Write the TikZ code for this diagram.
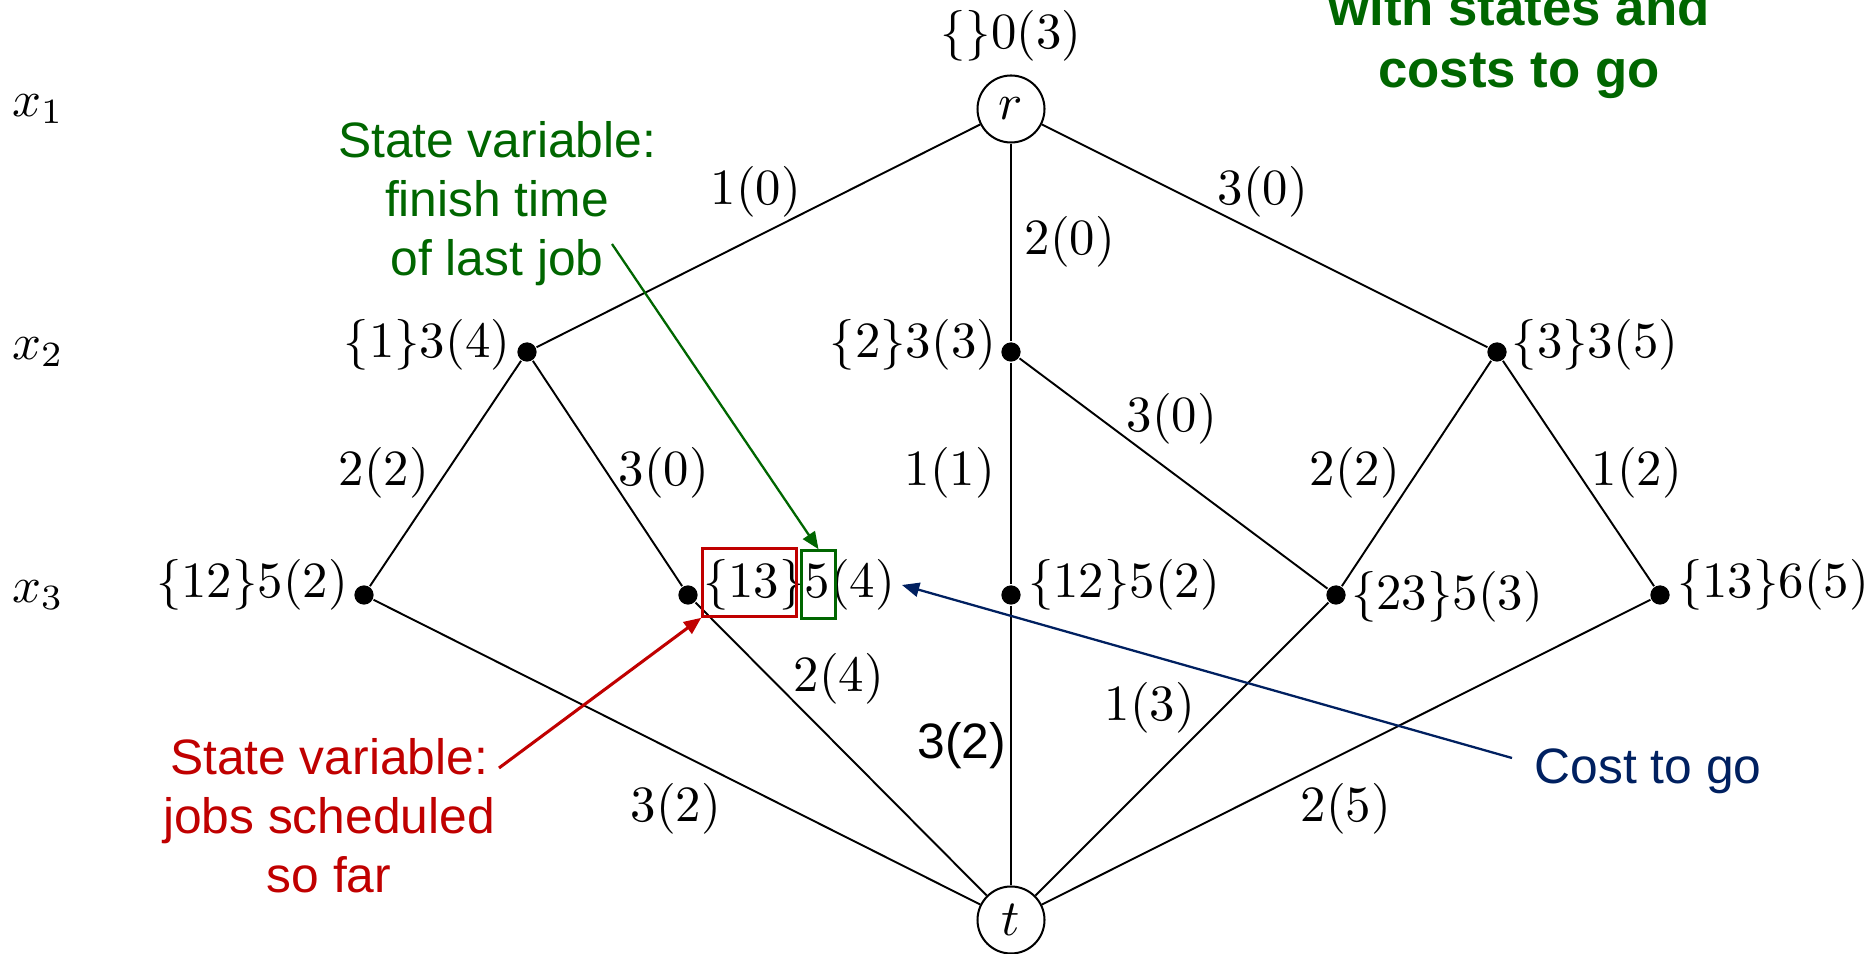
\documentclass[tikz,border=0pt]{standalone}
\usepackage{fontspec}
\newfontfamily\arial{Liberation Sans}
\usetikzlibrary{arrows.meta}
\definecolor{tgreen}{RGB}{0,102,0}
\definecolor{tred}{RGB}{192,0,0}
\definecolor{tnavy}{RGB}{0,32,96}
\begin{document}
\begin{tikzpicture}[x=0.197pt,y=-0.197pt,
  edge/.style={line width=0.38pt},
  endpt/.style={circle,draw,line width=0.4pt,minimum size=13.2pt,inner sep=0pt},
  dot/.style={circle,fill,minimum size=3.8pt,inner sep=0pt},
  lab/.style={inner sep=0pt},
  ann/.style={font=\arial\fontsize{9.8}{11.6}\selectfont,align=center,inner sep=0pt},
  ttl/.style={font=\arial\bfseries\fontsize{10.4}{12.3}\selectfont,align=center,inner sep=0pt,text=tgreen},
  arr/.style={-{Triangle[length=3.4pt,width=2.8pt]},line width=0.45pt}]
\useasboundingbox (0,0) rectangle (1872,954);

% graph nodes
\node[endpt] (r) at (1011,109) {$r$};
\node[endpt] (t) at (1011,920) {$t$};
\node[dot] (A) at (527,352) {};
\node[dot] (B) at (1011,352) {};
\node[dot] (C) at (1497,352) {};
\node[dot] (D) at (364,595) {};
\node[dot] (E) at (688,595) {};
\node[dot] (F) at (1011,595) {};
\node[dot] (G) at (1336,595) {};
\node[dot] (H) at (1660,595) {};

% edges
\draw[edge] (r) -- (A);
\draw[edge] (r) -- (B);
\draw[edge] (r) -- (C);
\draw[edge] (A) -- (D);
\draw[edge] (A) -- (E);
\draw[edge] (B) -- (F);
\draw[edge] (B) -- (G);
\draw[edge] (C) -- (G);
\draw[edge] (C) -- (H);
\draw[edge] (D) -- (t);
\draw[edge] (E) -- (t);
\draw[edge] (F) -- (t);
\draw[edge] (G) -- (t);
\draw[edge] (H) -- (t);

% stage labels
\node[lab] (x1) at (38,109) {$x_1$};
\node[lab] (x2) at (38,352) {$x_2$};
\node[lab] (x3) at (38,595) {$x_3$};

% node labels
\node[lab] (lr) at (1011,36) {$\{\}0(3)$};
\node[lab] (lA) at (427,345) {$\{1\}3(4)$};
\node[lab] (lB) at (913,345) {$\{2\}3(3)$};
\node[lab] (lC) at (1595,345) {$\{3\}3(5)$};
\node[lab] (lD) at (252,585) {$\{12\}5(2)$};
\node[lab] (lE) at (799,585) {$\{13\}5(4)$};
\node[lab] (lF) at (1124,585) {$\{12\}5(2)$};
\node[lab] (lG) at (1447,597) {$\{23\}5(3)$};
\node[lab] (lH) at (1773,585) {$\{13\}6(5)$};

% edge labels
\node[lab] (e1) at (756,192) {$1(0)$};
\node[lab] (e2) at (1070,242) {$2(0)$};
\node[lab] (e3) at (1263,192) {$3(0)$};
\node[lab] (e4) at (384,473) {$2(2)$};
\node[lab] (e5) at (664,473) {$3(0)$};
\node[lab] (e6) at (950,473) {$1(1)$};
\node[lab] (e7) at (1172,419) {$3(0)$};
\node[lab] (e8) at (1355,473) {$2(2)$};
\node[lab] (e9) at (1637,473) {$1(2)$};
\node[lab] (e10) at (839,679) {$2(4)$};
\node[lab,font=\arial\fontsize{9.8}{11.6}\selectfont] (e11) at (962,746) {3(2)};
\node[lab] (e12) at (1150,708) {$1(3)$};
\node[lab] (e13) at (676,809) {$3(2)$};
\node[lab] (e14) at (1346,809) {$2(5)$};

% highlight boxes
\node[draw=tred,line width=0.5pt,minimum width=18.5pt,minimum height=13.4pt,inner sep=0pt] (rbox) at (749.5,582.5) {};
\node[draw=tgreen,line width=0.5pt,minimum width=6.7pt,minimum height=13.4pt,inner sep=0pt] (gbox) at (818.5,584.5) {};

% annotations
\node[ann,text=tgreen] (gtext) at (497,204) {State variable:\\finish time\\of last job};
\node[ann,text=tred] (rtext) at (329,816) {State variable:\\jobs scheduled\\so far};
\node[ann,text=tnavy] (ntext) at (1648,771) {Cost to go};
\node[ttl,anchor=base] (title2) at (1519,88) {costs to go};
\node[ttl,anchor=base] (title1) at (1519,26) {with states and};

\coordinate (gstart) at (612,244);
\coordinate (rstart) at (499,768);
\coordinate (nstart) at (1512,758);
\coordinate (ntip) at (902,585);
\draw[arr,draw=tgreen,fill=tgreen] (gstart) -- (gbox.north);
\draw[arr,draw=tred,fill=tred,line width=0.6pt] (rstart) -- (rbox.south west);
\draw[arr,draw=tnavy,fill=tnavy] (nstart) -- (ntip);
\end{tikzpicture}
\end{document}
